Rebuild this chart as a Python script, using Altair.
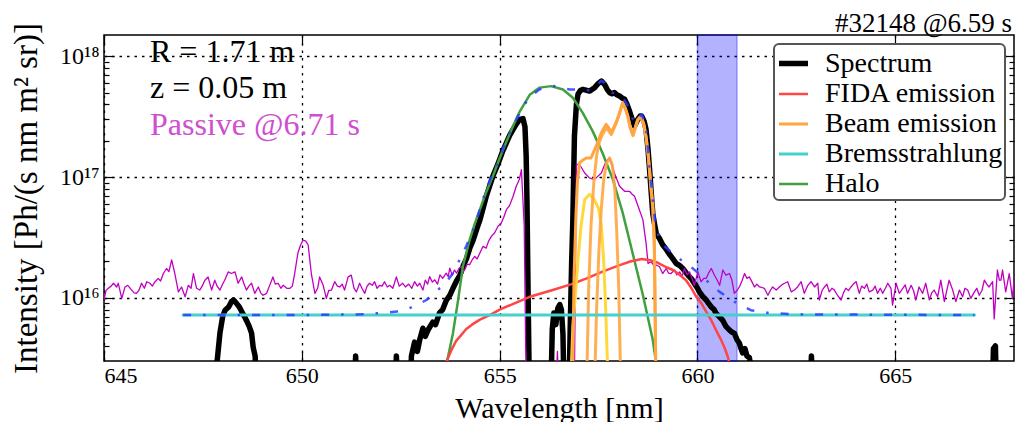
import altair as alt
import pandas as pd

UNIT = 1e16  # all intensity lists below are in units of 1e16 Ph/(s nm m^2 sr)

# ---------------- measured spectrum (black) ----------------
spec_x = [645.00, 647.80, 647.86, 647.93, 648.00, 648.06, 648.15, 648.22, 648.27, 648.35,
          648.42, 648.48, 648.55, 648.60, 648.67, 648.73, 648.77, 648.82, 648.88,
          651.30, 651.36, 651.42, 652.33, 652.39, 652.45,
          652.72, 652.77, 652.85, 652.92, 652.98, 653.06, 653.12, 653.20, 653.31, 653.38,
          653.48, 653.56, 653.65, 653.74, 653.82, 653.91, 654.00, 654.08, 654.16, 654.25,
          654.33, 654.42, 654.50, 654.58, 654.66, 654.75, 654.83, 654.92, 655.00, 655.08,
          655.17, 655.25, 655.34, 655.42, 655.51, 655.59, 655.64, 655.67, 655.69, 655.72, 655.76,
          656.28, 656.33, 656.37, 656.42, 656.47, 656.52, 656.56, 656.60, 656.64,
          656.74, 656.78, 656.82, 656.85, 656.89, 656.94, 656.98, 657.04, 657.10, 657.18,
          657.27, 657.33, 657.40, 657.48, 657.57, 657.65, 657.72, 657.78, 657.84, 657.90,
          657.96, 658.03, 658.10, 658.16, 658.22, 658.28, 658.35, 658.41, 658.49, 658.55,
          658.59, 658.65, 658.70, 658.75, 658.79, 658.83, 658.87, 658.92, 658.96, 659.04,
          659.12, 659.20, 659.29, 659.38, 659.46, 659.55, 659.63, 659.72, 659.80, 659.86,
          659.92, 660.00, 660.05, 660.14, 660.22, 660.28, 660.35, 660.42, 660.47, 660.55,
          660.64, 660.72, 660.81, 660.87, 660.93, 661.00, 661.06, 661.10, 661.14, 661.20,
          661.25, 661.31, 661.36, 661.40,
          662.82, 662.88, 662.94, 667.44, 667.48, 667.53, 667.57, 668.00]
spec_y = [0.1, 0.1, 0.30, 0.51, 0.70, 0.79, 0.84, 0.93, 0.96, 0.90,
          0.84, 0.77, 0.70, 0.65, 0.58, 0.51, 0.39, 0.33, 0.1,
          0.1, 0.33, 0.1, 0.1, 0.33, 0.1,
          0.1, 0.33, 0.43, 0.36, 0.45, 0.56, 0.48, 0.55, 0.63, 0.60,
          0.75, 0.80, 0.95, 1.05, 1.20, 1.38, 1.55, 1.85, 2.1, 2.6,
          3.0, 3.7, 4.4, 5.5, 6.9, 8.5, 10.2, 12.0, 14.0, 16.5,
          19.2, 22.0, 24.8, 27.5, 30.0, 30.5, 26.0, 15.0, 6.5, 1.0, 0.1,
          0.1, 0.55, 0.75, 0.60, 0.82, 0.88, 0.80, 0.50, 0.1,
          0.1, 0.5, 2.0, 4.4, 21.8, 40.0, 48.4, 52.0, 53.2, 52.5,
          51.5, 53.0, 55.0, 59.0, 62.4, 58.6, 53.0, 50.0, 49.0, 50.0,
          48.0, 46.9, 45.0, 44.0, 40.0, 35.2, 30.0, 26.4, 30.0, 32.0,
          32.0, 29.0, 24.8, 17.0, 11.5, 7.5, 5.0, 4.0, 3.4, 3.1,
          2.75, 2.55, 2.3, 2.1, 1.93, 1.85, 1.75, 1.6, 1.49, 1.42,
          1.32, 1.2, 1.12, 1.02, 0.96, 0.90, 0.84, 0.80, 0.74, 0.70,
          0.65, 0.58, 0.54, 0.52, 0.51, 0.45, 0.42, 0.38, 0.35, 0.38,
          0.33, 0.32, 0.26, 0.1,
          0.1, 0.33, 0.1, 0.1, 0.38, 0.40, 0.1, 0.1]

# ---------------- passive spectrum (magenta) ----------------
pas_x = [645.00, 645.05, 645.11, 645.18, 645.24, 645.32, 645.36, 645.45, 645.53, 645.60,
         645.70, 645.76, 645.82, 645.88, 645.95, 646.02, 646.08, 646.16, 646.22, 646.29,
         646.37, 646.43, 646.50, 646.58, 646.64, 646.71, 646.79, 646.88, 646.96, 647.05,
         647.13, 647.20, 647.26, 647.34, 647.42, 647.48, 647.55, 647.63, 647.72, 647.80,
         647.86, 647.93, 648.00, 648.05, 648.14, 648.22, 648.31, 648.39, 648.48, 648.54,
         648.60, 648.66, 648.73, 648.81, 648.90, 648.96, 649.02, 649.11, 649.18, 649.27,
         649.33, 649.40, 649.47, 649.53, 649.62, 649.70, 649.76, 649.82, 649.90, 649.96,
         650.03, 650.10, 650.16, 650.24, 650.33, 650.40, 650.45, 650.54, 650.62, 650.68,
         650.75, 650.83, 650.90, 650.96, 651.02, 651.08, 651.17, 651.25, 651.32, 651.38,
         651.46, 651.52, 651.59, 651.65, 651.71, 651.78, 651.84, 651.90, 651.97, 652.03,
         652.09, 652.16, 652.22, 652.30, 652.39, 652.46, 652.55, 652.62, 652.70, 652.78,
         652.85, 652.92, 652.98, 653.06, 653.12, 653.18, 653.23, 653.30, 653.36, 653.43,
         653.49, 653.56, 653.65, 653.70, 653.74, 653.80, 653.86, 653.91, 653.97, 654.03,
         654.08, 654.12, 654.18, 654.24, 654.30, 654.37, 654.43, 654.50, 654.58, 654.66,
         654.72, 654.79, 654.87, 654.96, 655.04, 655.10, 655.17, 655.25, 655.34, 655.42,
         655.50, 655.55, 655.62, 655.68, 656.40, 656.46, 656.52, 656.88, 656.94, 657.02,
         657.10, 657.15, 657.27, 657.36, 657.44, 657.57, 657.69, 657.78, 657.84, 657.90,
         658.03, 658.16, 658.28, 658.35, 658.41, 658.53, 658.62, 658.70, 658.75, 658.83,
         658.90, 658.96, 659.04, 659.12, 659.21, 659.27, 659.33, 659.42, 659.48, 659.55,
         659.61, 659.67, 659.74, 659.80, 659.86, 659.92, 660.01, 660.09, 660.16, 660.22,
         660.28, 660.35, 660.43, 660.50, 660.56, 660.64, 660.72, 660.81, 660.87, 660.93,
         661.00, 661.06, 661.13, 661.19, 661.25, 661.31, 661.38, 661.44, 661.50, 661.57,
         661.69, 661.78, 661.84, 661.90, 661.99, 662.07, 662.13, 662.20, 662.28, 662.37,
         662.45, 662.53, 662.62, 662.70, 662.79, 662.87, 662.96, 663.04, 663.08, 663.15,
         663.21, 663.27, 663.33, 663.40, 663.46, 663.54, 663.63, 663.69, 663.75, 663.82,
         663.88, 663.94, 664.01, 664.09, 664.15, 664.22, 664.28, 664.34, 664.43, 664.49,
         664.55, 664.62, 664.68, 664.75, 664.81, 664.89, 664.93, 665.02, 665.10, 665.19,
         665.25, 665.31, 665.40, 665.46, 665.52, 665.60, 665.69, 665.77, 665.86, 665.92,
         665.98, 666.07, 666.15, 666.24, 666.30, 666.36, 666.45, 666.53, 666.62, 666.70,
         666.76, 666.83, 666.91, 667.00, 667.06, 667.12, 667.19, 667.25, 667.31, 667.37,
         667.46, 667.50, 667.58, 667.63, 667.67, 667.71, 667.79, 667.88, 667.96, 668.00]
pas_y = [0.96, 1.15, 1.20, 1.25, 1.32, 1.23, 1.32, 0.99, 1.23, 1.27,
         1.16, 1.10, 1.09, 1.15, 1.32, 1.20, 1.36, 1.32, 1.25, 1.36,
         1.45, 1.38, 1.59, 1.75, 1.65, 2.06, 1.59, 1.12, 1.23, 1.02,
         1.27, 1.20, 1.59, 1.20, 1.16, 1.25, 1.40, 1.49, 1.16, 1.40,
         1.25, 1.16, 1.30, 1.40, 1.64, 1.59, 1.64, 1.32, 1.49, 1.30,
         1.16, 1.25, 1.32, 1.09, 1.23, 1.10, 1.05, 1.09, 1.25, 1.49,
         1.30, 1.32, 1.20, 1.27, 1.20, 1.20, 1.25, 1.59, 2.34, 2.70,
         3.01, 2.95, 2.74, 1.59, 1.09, 1.20, 1.49, 1.27, 0.99, 1.15,
         1.16, 1.36, 1.25, 1.23, 1.30, 1.16, 1.49, 1.54, 1.20, 1.12,
         1.32, 1.20, 1.09, 1.25, 1.32, 1.27, 1.36, 1.20, 1.27, 1.25,
         1.36, 1.23, 1.27, 1.20, 1.49, 1.25, 1.32, 1.23, 1.30, 1.20,
         1.36, 1.25, 1.32, 1.16, 1.40, 1.30, 1.50, 1.35, 1.41, 1.30,
         1.55, 1.45, 1.60, 1.50, 1.76, 1.55, 1.70, 1.60, 1.75, 1.82,
         1.65, 1.71, 1.90, 1.88, 2.05, 2.20, 2.10, 2.35, 2.67, 2.58,
         2.95, 3.23, 3.44, 3.91, 4.17, 4.60, 5.37, 5.80, 6.93, 8.39,
         9.60, 11.5, 4.0, 0.1, 0.1, 0.36, 0.1, 0.1, 12.7, 12.7,
         11.5, 10.8, 9.84, 9.6, 9.84, 10.8, 13.5, 14.4, 12.5, 10.8,
         8.39, 7.62, 7.62, 7.2, 6.93, 5.37, 4.44, 2.85, 1.93, 1.99,
         1.85, 1.87, 1.81, 1.59, 1.75, 1.60, 1.59, 1.70, 1.55, 1.64,
         1.50, 1.75, 1.55, 1.64, 1.45, 1.27, 1.64, 1.36, 1.45, 1.45,
         1.60, 1.75, 1.54, 1.40, 1.27, 1.70, 1.54, 1.59, 1.40, 1.09,
         1.15, 1.23, 1.40, 1.59, 1.45, 1.49, 1.35, 1.23, 1.30, 1.23,
         1.20, 1.05, 1.15, 1.23, 1.16, 1.23, 1.28, 1.32, 1.36, 1.12,
         1.16, 1.23, 1.36, 1.09, 1.27, 1.36, 1.23, 1.32, 0.96, 1.15,
         1.23, 1.30, 1.12, 1.20, 1.16, 1.05, 0.96, 1.10, 1.20, 1.15,
         1.23, 1.30, 1.36, 1.09, 1.25, 1.20, 1.30, 1.12, 1.16, 1.25,
         1.09, 1.20, 1.09, 1.20, 1.32, 1.20, 0.87, 1.32, 1.09, 1.20,
         1.28, 1.09, 1.27, 1.15, 0.96, 1.23, 1.09, 1.32, 0.96, 1.10,
         1.16, 1.02, 1.40, 0.93, 1.15, 1.40, 1.16, 0.93, 1.16, 1.02,
         1.20, 1.16, 0.99, 1.12, 1.20, 1.05, 1.15, 1.40, 1.30, 1.23,
         1.36, 0.67, 1.70, 1.40, 1.40, 1.70, 1.12, 1.59, 0.99, 1.40]

# ---------------- total fit (blue dash-dot) ----------------
fit_x = [647.00, 650.00, 651.50, 652.00, 652.40, 652.64, 652.90, 653.15, 653.44, 653.57,
         653.82, 653.95, 654.16, 654.33, 654.50, 654.66, 654.83, 655.00, 655.17, 655.38,
         655.59, 655.80, 656.00, 656.26, 656.50, 656.77, 656.95, 657.10, 657.27, 657.40,
         657.57, 657.65, 657.72, 657.84, 657.96, 658.10, 658.22, 658.35, 658.41, 658.49,
         658.59, 658.70, 658.78, 658.85, 658.92, 659.00, 659.10, 659.46, 659.84, 660.22,
         660.56, 660.93, 661.35, 661.80, 662.50, 667.00]
fit_y = [0.72, 0.72, 0.73, 0.75, 0.77, 0.80, 0.87, 0.96, 1.17, 1.25,
         1.6, 1.95, 2.7, 3.67, 5.37, 7.9, 10.8, 14.4, 20.5, 28.0,
         38.7, 47.0, 53.0, 57.0, 56.0, 53.0, 53.0, 53.5, 52.0, 55.0,
         63.0, 60.0, 54.0, 50.0, 49.0, 46.0, 40.0, 31.0, 28.0, 31.0,
         33.0, 26.0, 13.0, 7.5, 4.5, 3.4, 2.8, 2.2, 1.8, 1.40,
         1.12, 0.93, 0.79, 0.75, 0.73, 0.72]

# ---------------- Bremsstrahlung ----------------
brems_x = [647.0, 667.0]
brems_y = [0.72, 0.72]

# ---------------- Halo ----------------
halo_x = [653.55, 653.62, 653.70, 653.82, 653.95, 654.07, 654.24, 654.37, 654.50, 654.66,
          654.83, 655.00, 655.17, 655.34, 655.51, 655.76, 656.01, 656.30, 656.60, 656.85,
          657.10, 657.35, 657.60, 657.86, 658.11, 658.36, 658.61, 658.87, 658.96, 659.02]
halo_y = [0.18, 0.25, 0.33, 0.51, 0.96, 1.82, 3.0, 4.1, 5.37, 7.5,
          10.2, 14.3, 19.6, 26.5, 35.0, 48.0, 55.0, 56.6, 53.0, 45.4,
          34.0, 24.0, 15.8, 9.6, 5.05, 2.35, 1.09, 0.45, 0.28, 0.2]

# ---------------- FIDA emission ----------------
fida_x = [653.50, 653.60, 653.70, 653.80, 653.90, 654.00, 654.15, 654.30, 654.50, 654.75,
          655.00, 655.30, 655.76, 656.30, 656.82, 657.20, 657.60, 658.00, 658.30, 658.59,
          658.80, 659.00, 659.20, 659.38, 659.55, 659.71, 659.85, 659.97, 660.10, 660.22,
          660.35, 660.47, 660.58, 660.68, 660.76, 660.82, 660.90]
fida_y = [0.2, 0.27, 0.32, 0.38, 0.44, 0.48, 0.55, 0.60, 0.66, 0.72,
          0.80, 0.88, 1.02, 1.15, 1.30, 1.45, 1.65, 1.85, 2.0, 2.1,
          2.05, 1.95, 1.8, 1.7, 1.55, 1.40, 1.2, 1.02, 0.9, 0.77,
          0.65, 0.54, 0.46, 0.39, 0.33, 0.28, 0.22]

# ---------------- Beam emission (total and components) ----------------
beam_x = [656.84, 656.88, 656.93, 656.97, 657.02, 657.10, 657.19, 657.31, 657.44, 657.57,
          657.69, 657.76, 657.82, 657.94, 658.03, 658.11, 658.18, 658.24, 658.30, 658.37,
          658.43, 658.49, 658.55, 658.59, 658.65, 658.70, 658.75, 658.79, 658.83, 658.87,
          658.91, 658.95]
beam_y = [0.2, 1.5, 5.0, 9.5, 13.1, 13.8, 14.4, 14.4, 18.0, 23.3,
          27.3, 25.5, 23.3, 28.2, 34.1, 41.3, 37.0, 32.0, 26.0, 22.5,
          26.0, 30.0, 31.5, 31.0, 27.0, 21.8, 16.0, 11.5, 8.0, 6.1,
          3.0, 0.2]

beam_main_x = [657.20, 657.25, 657.31, 657.38, 657.45, 657.52, 657.60, 657.69, 657.76, 657.82,
               657.94, 658.03, 658.11, 658.18, 658.24, 658.30, 658.37, 658.43, 658.49, 658.55,
               658.59, 658.65, 658.70, 658.75, 658.79, 658.83, 658.87, 658.91, 658.95]
beam_main_y = [0.2, 1.2, 4.0, 9.0, 15.0, 19.5, 22.5, 25.5, 24.0, 22.5,
               27.5, 33.5, 41.0, 36.5, 31.5, 25.5, 22.0, 25.5, 29.5, 31.0,
               30.5, 26.5, 21.3, 15.5, 11.0, 7.5, 5.5, 2.5, 0.2]

beam_half_x = [657.40, 657.45, 657.51, 657.57, 657.63, 657.70, 657.78, 657.85, 657.91, 657.96,
               658.01, 658.06]
beam_half_y = [0.2, 0.8, 2.5, 5.5, 9.5, 13.0, 14.4, 12.5, 8.0, 3.5,
               1.2, 0.2]

beam_third_x = [656.80, 656.85, 656.92, 656.98, 657.06, 657.15, 657.27, 657.38, 657.50, 657.57,
                657.63, 657.68, 657.74]
beam_third_y = [0.2, 0.58, 1.12, 2.09, 4.0, 6.5, 7.2, 6.6, 5.5, 4.0,
                2.0, 0.8, 0.2]

# ---------------- shaded wavelength band ----------------
band_lo = [660.0]
band_hi = [661.0]

# ---------------- legend / styling ----------------
leg_names = ["Spectrum", "FIDA emission", "Beam emission", "Bremsstrahlung", "Halo"]
leg_colors = ["#000000", "#ff4545", "#ffa640", "#45d0cc", "#40a040"]
leg_widths = [5.5, 2.5, 3.0, 3.0, 2.5]

x_ticks = [645, 650, 655, 660, 665]
y_major = [1e16, 1e17, 1e18]
y_minor = [4e15, 5e15, 6e15, 7e15, 8e15, 9e15,
           2e16, 3e16, 4e16, 5e16, 6e16, 7e16, 8e16, 9e16,
           2e17, 3e17, 4e17, 5e17, 6e17, 7e17, 8e17, 9e17]

series = [("Spectrum", spec_x, spec_y), ("Passive", pas_x, pas_y), ("Fit", fit_x, fit_y),
          ("Bremsstrahlung", brems_x, brems_y), ("Halo", halo_x, halo_y),
          ("FIDA emission", fida_x, fida_y), ("Beam emission", beam_x, beam_y),
          ("BeamMain", beam_main_x, beam_main_y), ("BeamHalf", beam_half_x, beam_half_y),
          ("BeamThird", beam_third_x, beam_third_y)]
rows = []
for name, xs_, ys_ in series:
    for a, b in zip(xs_, ys_):
        rows.append({"series": name, "wl": a, "I": b * UNIT})
df = pd.DataFrame(rows)
band_df = pd.DataFrame({"lo": band_lo, "hi": band_hi})

W, H = 910, 326
FONT = "Liberation Serif, DejaVu Serif, serif"
xs = alt.Scale(domain=[645, 668], nice=False, zero=False)
ys = alt.Scale(type="log", domain=[3e15, 1.5e18], nice=False)

base = alt.Chart(df)


def sel(name):
    return base.transform_filter(alt.datum.series == name)


def XE(axis=None):
    return alt.X("wl:Q", scale=xs, axis=axis)


def YE(axis=None):
    return alt.Y("I:Q", scale=ys, axis=axis)


def axis_layer(xaxis, yaxis):
    return sel("Bremsstrahlung").mark_point(opacity=0).encode(x=XE(xaxis), y=YE(yaxis))


grid_kw = dict(grid=True, gridColor="black", gridDash=[2.5, 5], gridWidth=1.3, gridOpacity=1)
ylab = "datum.value > 5e17 ? '10¹⁸' : (datum.value > 5e16 ? '10¹⁷' : '10¹⁶')"

ax_main = axis_layer(
    alt.Axis(values=x_ticks, format="d", ticks=False, domain=False, labelFont=FONT,
             labelFontSize=22, labelPadding=4, title="Wavelength [nm]", titleFont=FONT,
             titleFontSize=30, titleY=56, titleBaseline="alphabetic", **grid_kw),
    alt.Axis(values=y_major, labelExpr=ylab, ticks=False, domain=False, labelFont=FONT,
             labelFontSize=24, labelPadding=5, title="Intensity [Ph/(s nm m² sr)]",
             titleFont=FONT, titleFontSize=33, titleX=-78, titleY=H / 2, titleAngle=270,
             titleAlign="center", titleBaseline="middle", **grid_kw),
)
tick_kw = dict(labels=False, domain=False, grid=False, title=None, tickColor="black", tickWidth=1.2)
ax_in1 = axis_layer(
    alt.Axis(orient="top", offset=-H, values=x_ticks, tickSize=10, **tick_kw),
    alt.Axis(orient="right", offset=-W, values=y_major, tickSize=10, **tick_kw),
)
ax_in2 = axis_layer(
    alt.Axis(orient="bottom", offset=-H, values=x_ticks, tickSize=10, **tick_kw),
    alt.Axis(orient="left", offset=-W, values=y_major, tickSize=10, **tick_kw),
)
ax_in3 = axis_layer(None, alt.Axis(orient="right", offset=-W, values=y_minor, tickSize=5, **tick_kw))
ax_in4 = axis_layer(None, alt.Axis(orient="left", offset=-W, values=y_minor, tickSize=5, **tick_kw))

band = alt.Chart(band_df).mark_rect(color="#0000ff", fillOpacity=0.3, stroke="#0000ff",
                                    strokeOpacity=0.3, strokeWidth=1.5).encode(
    x=alt.X("lo:Q", scale=xs, axis=None), x2="hi:Q")

color_enc = alt.Color("series:N", scale=alt.Scale(domain=leg_names, range=leg_colors),
                      legend=alt.Legend(title=None))
width_enc = alt.StrokeWidth("series:N", scale=alt.Scale(type="ordinal", domain=leg_names, range=leg_widths),
                            legend=alt.Legend(title=None))


def legend_line(name):
    return sel(name).mark_line(clip=True, strokeCap="round", strokeJoin="round").encode(
        x=XE(), y=YE(), color=color_enc, strokeWidth=width_enc)


def plain_line(name, color, width, **kw):
    return sel(name).mark_line(clip=True, color=color, strokeWidth=width,
                               strokeJoin="round", **kw).encode(x=XE(), y=YE())


spectrum = legend_line("Spectrum")
passive = plain_line("Passive", "#c000c0", 1.3)
halo = legend_line("Halo")
fida = legend_line("FIDA emission")
beam_third = plain_line("BeamThird", "#ffd83a", 3.0)
beam_half = plain_line("BeamHalf", "#ffa640", 3.0, opacity=0.9)
beam_main = plain_line("BeamMain", "#ffa640", 3.0, opacity=0.9)
beam = legend_line("Beam emission")
brems = legend_line("Bremsstrahlung")
fit = plain_line("Fit", "#2a3cff", 2.5, strokeDash=[8, 12, 2.5, 12], opacity=0.85)


def label(txt, x, y, color="black", size=32, align="left"):
    return alt.Chart(band_df).mark_text(align=align, baseline="alphabetic", fontSize=size,
                                        font=FONT, color=color).encode(
        x=alt.value(x), y=alt.value(y), text=alt.value(txt))


t1 = label("R = 1.71 m", 46, 27)
t2 = label("z = 0.05 m", 46, 63)
t3 = label("Passive @6.71 s", 46, 100, "#d04ed0")
t_title = label("#32148 @6.59 s", W - 2, -3, size=27, align="right")

chart = alt.layer(
    band, ax_main, ax_in1, ax_in2, ax_in3, ax_in4,
    spectrum, passive, halo, fida, beam_third, beam_half, beam_main, beam, brems, fit,
    t1, t2, t3, t_title,
).resolve_axis(x="independent", y="independent").properties(
    width=W, height=H,
    autosize=alt.AutoSizeParams(type="none"),
    padding={"left": 96, "top": 27, "right": 2, "bottom": 61},
).configure_axis(
    labelFont=FONT, titleFont=FONT, labelColor="black", titleColor="black",
    titleFontWeight="normal",
).configure_view(stroke="black", strokeWidth=1.5).configure_legend(
    orient="top-right", offset=9, padding=2, fillColor="white", strokeColor="#555555",
    strokeWidth=2, cornerRadius=5, labelFont=FONT, labelFontSize=28, labelColor="black",
    labelLimit=400, symbolType="stroke", symbolSize=841, rowPadding=0, labelOffset=14,
)

chart.save("out.html", embed_options={"renderer": "svg", "actions": False})
